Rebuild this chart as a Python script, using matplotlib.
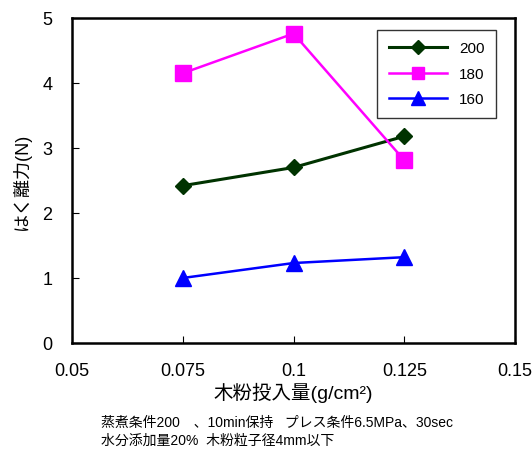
import numpy as np
import matplotlib
matplotlib.use("Agg")
import matplotlib.pyplot as plt

plt.rcParams['font.family'] = ['Liberation Sans', 'Noto Sans CJK JP']

x = [0.075, 0.1, 0.125]
s200 = [2.42, 2.70, 3.18]
s180 = [4.15, 4.76, 2.81]
s160 = [1.00, 1.23, 1.32]
labels = ["200", "180", "160"]
xticks = [0.05, 0.075, 0.1, 0.125, 0.15]
xticklabels = ["0.05", "0.075", "0.1", "0.125", "0.15"]

fig = plt.figure(figsize=(5.32, 4.52), dpi=100)
ax = fig.add_axes([0.1353, 0.239, 0.833, 0.719])

ax.plot(x, s200, color="#003300", marker="D", markersize=8, lw=2.2, label=labels[0])
ax.plot(x, s180, color="#ff00ff", marker="s", markersize=11, lw=1.8, label=labels[1])
ax.plot(x, s160, color="#0000ff", marker="^", markersize=12, lw=1.8, label=labels[2])

ax.set_xlim(0.05, 0.15)
ax.set_ylim(0, 5)
ax.set_xticks(xticks)
ax.set_xticklabels(xticklabels)
ax.set_yticks(range(6))
ax.tick_params(direction="in", length=5, labelsize=13, top=False, right=False)
ax.tick_params(axis="x", pad=14)
ax.tick_params(axis="y", pad=14)
for sp in ax.spines.values():
    sp.set_linewidth(1.8)

ax.set_ylabel("はく離力(N)", fontsize=13, labelpad=8)
ax.set_xlabel("木粉投入量(g/cm²)", fontsize=14, labelpad=2)

leg = ax.legend(loc="upper right", bbox_to_anchor=(0.957, 0.963), borderaxespad=0,
                fontsize=11, frameon=True, fancybox=False, edgecolor="black",
                handlelength=3.8, labelspacing=0.75, borderpad=0.75, markerscale=0.85)
leg.get_frame().set_linewidth(1)

fig.text(0.19, 0.056, "蒸煮条件200　、10min保持   プレス条件6.5MPa、30sec", fontsize=10)
fig.text(0.19, 0.015, "水分添加量20%  木粉粒子径4mm以下", fontsize=10)

fig.savefig("out.png", dpi=100)
